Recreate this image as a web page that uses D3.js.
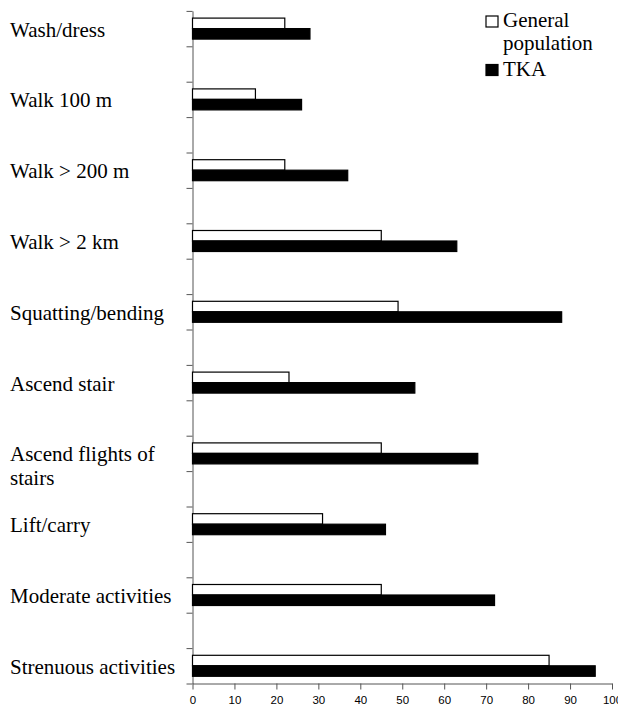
<!DOCTYPE html>
<html>
<head>
<meta charset="utf-8">
<script src="https://cdn.jsdelivr.net/npm/d3@7"></script>
<style>
  body { margin: 0; background: #fff; }
  svg { display: block; }
  .serif { font-family: "Liberation Serif", "Times New Roman", serif; }
  .sans { font-family: "Liberation Sans", Arial, sans-serif; }
</style>
</head>
<body>
<script>
// categories, top to bottom
const categories = ["Wash/dress", "Walk 100 m", "Walk > 200 m", "Walk > 2 km",
  "Squatting/bending", "Ascend stair", "Ascend flights of stairs", "Lift/carry",
  "Moderate activities", "Strenuous activities"];
// label lines (one category wraps)
const labelLines = [["Wash/dress"], ["Walk 100 m"], ["Walk > 200 m"], ["Walk > 2 km"],
  ["Squatting/bending"], ["Ascend stair"], ["Ascend flights of", "stairs"], ["Lift/carry"],
  ["Moderate activities"], ["Strenuous activities"]];
const series = ["General population", "TKA"];
const generalPop = [22, 15, 22, 45, 49, 23, 45, 31, 45, 85];
const tka = [28, 26, 37, 63, 88, 53, 68, 46, 72, 96];
const xTicks = [0, 10, 20, 30, 40, 50, 60, 70, 80, 90, 100];

const W = 618, H = 709;
const svg = d3.select("body").append("svg").attr("width", W).attr("height", H);

const bottom = 683.5, step = 70.8;
const x = d3.scaleLinear().domain([0, 100]).range([192.5, 612]);

// each category owns one step; bars sit in its lower half
const y = d3.scaleBand().domain(categories)
  .range([bottom - step * categories.length, bottom]).paddingInner(0).paddingOuter(0);
const ySub = d3.scaleBand().domain(series).range([step * 0.5 + 7.2, step - 7.2]);

const rows = categories.map((c, i) => ({cat: c, lines: labelLines[i], vals: [generalPop[i], tka[i]]}));

// y axis: ticks at every half step
const yTick = d3.scaleLinear().domain([0, categories.length]).range(y.range());
svg.append("g")
  .attr("transform", `translate(${x(0)},0)`)
  .call(d3.axisLeft(d3.scaleLinear().domain([0.5, 10]).range([yTick(0.5), yTick(10)]))
    .tickValues(d3.range(0.5, 10.01, 0.5)).tickFormat("").tickSize(6).tickSizeOuter(0))
  .call(g => g.selectAll("path,line").attr("stroke", "#555"));

// x axis
svg.append("g")
  .attr("transform", `translate(0,${bottom})`)
  .call(d3.axisBottom(x).tickValues(xTicks).tickSize(6).tickSizeOuter(0))
  .call(g => g.attr("font-family", null).attr("font-size", null))
  .call(g => g.selectAll("path,line").attr("stroke", "#555"))
  .call(g => g.selectAll("text").attr("class", "sans")
    .attr("font-size", 11.5).attr("fill", "#000").attr("dy", "1em"));

// bars
const grp = svg.append("g").selectAll("g").data(rows).join("g")
  .attr("transform", d => `translate(0,${y(d.cat)})`);
grp.selectAll("rect")
  .data(d => d.vals.map((v, j) => ({s: series[j], v})))
  .join("rect")
  .attr("x", x(0))
  .attr("y", d => ySub(d.s))
  .attr("width", d => x(d.v) - x(0))
  .attr("height", ySub.bandwidth())
  .attr("fill", d => d.s === "TKA" ? "#000" : "#fff")
  .attr("stroke", "#000")
  .attr("stroke-width", 1.2);

// category labels
const labels = svg.append("g").selectAll("text").data(rows).join("text")
  .attr("class", "serif")
  .attr("font-size", 21)
  .attr("fill", "#000")
  .attr("x", 10)
  .attr("y", d => y(d.cat) + step * 0.75 + 8);
labels.selectAll("tspan").data(d => d.lines).join("tspan")
  .attr("x", 10)
  .attr("dy", (d, i) => i === 0 ? 0 : 23.5)
  .text(d => d);

// legend
const legend = [
  {s: "General population", lines: ["General", "population"], fill: "#fff", y: 16},
  {s: "TKA", lines: ["TKA"], fill: "#000", y: 64.5}
];
const lg = svg.append("g").selectAll("g").data(legend).join("g");
lg.append("rect").attr("x", 486).attr("y", d => d.y).attr("width", 12).attr("height", 11)
  .attr("fill", d => d.fill).attr("stroke", "#000").attr("stroke-width", 1.2);
lg.append("text")
  .attr("class", "serif")
  .attr("font-size", 21)
  .attr("y", d => d.y + 11)
  .selectAll("tspan").data(d => d.lines).join("tspan")
  .attr("x", 503)
  .attr("dy", (d, i) => i === 0 ? 0 : 23)
  .text(d => d);
</script>
</body>
</html>
